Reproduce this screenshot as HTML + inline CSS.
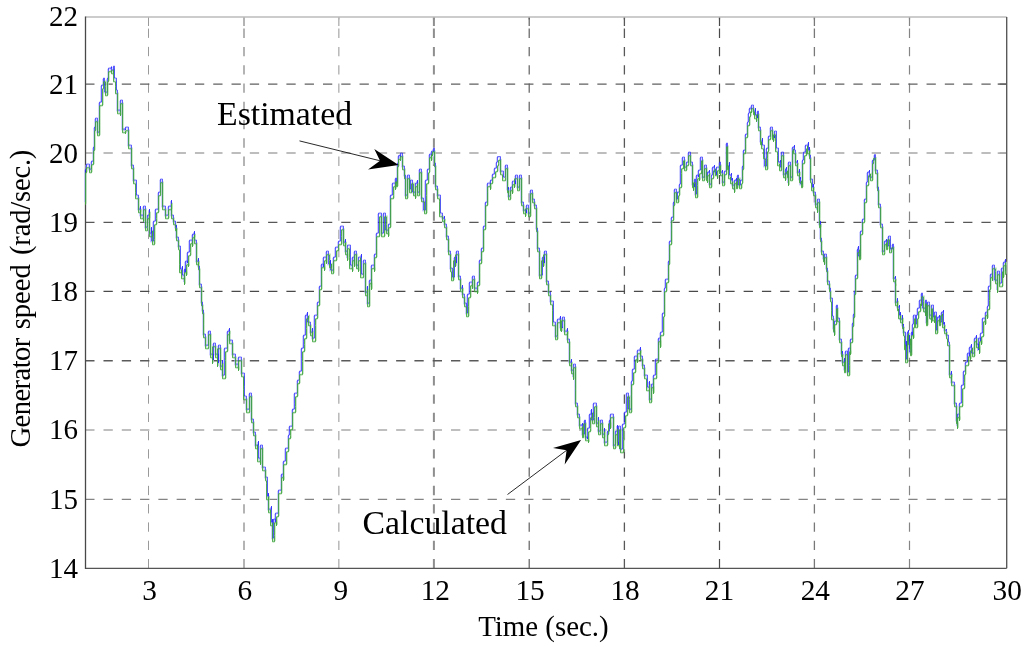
<!DOCTYPE html><html><head><meta charset="utf-8"><style>html,body{margin:0;padding:0;background:#fff;overflow:hidden;width:1024px;height:649px}svg{display:block}text{font-family:"Liberation Serif",serif;fill:#000}svg{will-change:transform}</style></head><body>
<svg width="1024" height="649" viewBox="0 0 1024 649">
<rect width="1024" height="649" fill="#fff"/>
<g stroke-dasharray="9.3 8.99"><line x1="148.5" y1="568.3" x2="148.5" y2="17.0" stroke="#9a9a9a" stroke-width="1.0"/><line x1="244.0" y1="568.3" x2="244.0" y2="17.0" stroke="#b4b4b4" stroke-width="2.0"/><line x1="338.8" y1="568.3" x2="338.8" y2="17.0" stroke="#b8b8b8" stroke-width="1.5"/><line x1="433.9" y1="568.3" x2="433.9" y2="17.0" stroke="#8e8e8e" stroke-width="2.0"/><line x1="529.2" y1="568.3" x2="529.2" y2="17.0" stroke="#606060" stroke-width="1.2"/><line x1="624.4" y1="568.3" x2="624.4" y2="17.0" stroke="#585858" stroke-width="1.3"/><line x1="719.5" y1="568.3" x2="719.5" y2="17.0" stroke="#4a4a4a" stroke-width="1.2"/><line x1="814.4" y1="568.3" x2="814.4" y2="17.0" stroke="#787878" stroke-width="1.3"/><line x1="909.5" y1="568.3" x2="909.5" y2="17.0" stroke="#858585" stroke-width="1.2"/><line x1="85.2" y1="84.1" x2="1006.7" y2="84.1" stroke="#606060" stroke-width="1.4"/><line x1="85.2" y1="153.1" x2="1006.7" y2="153.1" stroke="#a8a8a8" stroke-width="1.5"/><line x1="85.2" y1="222.3" x2="1006.7" y2="222.3" stroke="#585858" stroke-width="1.3"/><line x1="85.2" y1="291.4" x2="1006.7" y2="291.4" stroke="#4a4a4a" stroke-width="1.1"/><line x1="85.2" y1="360.8" x2="1006.7" y2="360.8" stroke="#5a5a5a" stroke-width="1.5"/><line x1="85.2" y1="429.9" x2="1006.7" y2="429.9" stroke="#aaaaaa" stroke-width="1.5"/><line x1="85.2" y1="499.4" x2="1006.7" y2="499.4" stroke="#848484" stroke-width="1.2"/></g>
<line x1="148.5" y1="17.0" x2="148.5" y2="26.0" stroke="#9a9a9a" stroke-width="1.0"/><line x1="244.0" y1="17.0" x2="244.0" y2="26.0" stroke="#b4b4b4" stroke-width="2.0"/><line x1="338.8" y1="17.0" x2="338.8" y2="26.0" stroke="#b8b8b8" stroke-width="1.5"/><line x1="433.9" y1="17.0" x2="433.9" y2="26.0" stroke="#8e8e8e" stroke-width="2.0"/><line x1="529.2" y1="17.0" x2="529.2" y2="26.0" stroke="#606060" stroke-width="1.2"/><line x1="624.4" y1="17.0" x2="624.4" y2="26.0" stroke="#585858" stroke-width="1.3"/><line x1="719.5" y1="17.0" x2="719.5" y2="26.0" stroke="#4a4a4a" stroke-width="1.2"/><line x1="814.4" y1="17.0" x2="814.4" y2="26.0" stroke="#787878" stroke-width="1.3"/><line x1="909.5" y1="17.0" x2="909.5" y2="26.0" stroke="#858585" stroke-width="1.2"/><line x1="997.7" y1="84.1" x2="1006.7" y2="84.1" stroke="#606060" stroke-width="1.4"/><line x1="997.7" y1="153.1" x2="1006.7" y2="153.1" stroke="#a8a8a8" stroke-width="1.5"/><line x1="997.7" y1="222.3" x2="1006.7" y2="222.3" stroke="#585858" stroke-width="1.3"/><line x1="997.7" y1="291.4" x2="1006.7" y2="291.4" stroke="#4a4a4a" stroke-width="1.1"/><line x1="997.7" y1="360.8" x2="1006.7" y2="360.8" stroke="#5a5a5a" stroke-width="1.5"/><line x1="997.7" y1="429.9" x2="1006.7" y2="429.9" stroke="#aaaaaa" stroke-width="1.5"/><line x1="997.7" y1="499.4" x2="1006.7" y2="499.4" stroke="#848484" stroke-width="1.2"/>
<path d="M85.5,17.0H1006.7" fill="none" stroke="#bbb" stroke-width="1.3"/>
<path d="M1006.7,17.0V568.3" fill="none" stroke="#555" stroke-width="1.35"/>
<path d="M85.5,568.3H1006.7" fill="none" stroke="#555" stroke-width="1.3"/>
<path d="M85.5,16.4V568.9" fill="none" stroke="#484848" stroke-width="1.3"/>
<path d="M84.5,202.1V170.1H85.5V170.1V165.1H88.5V165.1V170.1H90.5V167.1V162.1H92.5V148.1V148.1H93.5V128.1V128.1H94.5V119.1V119.1H96.5V125.1V133.1H98.5V103.1V103.1H100.5V86.1V86.1H102.5V79.1V79.1H103.5V84.1V93.1H106.5V79.1V79.1H107.5V74.1V69.1H110.5V67.6V71.1H112.5V71.1V67.1H113.5V79.1V79.1H115.5V84.1V91.1H116.5V111.1V111.1H119.5V113.1V101.1H121.5V118.1V130.1H124.5V131.1V128.1H127.5V140.1V146.1H130.5V160.1V166.1H132.5V169.1V181.1H135.5V190.1V196.1H137.5V201.1V210.1H139.5V207.1V216.1H142.5V219.1V207.1H144.5V210.1V228.1H146.5V225.1V216.1H148.5V210.1V234.1H150.5V228.1V242.1H152.5V237.1V222.1H154.5V216.1V210.1H157.5V204.1V193.1H159.5V193.1V180.1H161.5V193.1V207.1H164.5V210.1V216.1H167.5V213.1V207.1H170.5V201.1V216.1H172.5V216.1V222.1H174.5V225.1V228.1H175.5V226.1V238.1H177.5V241.1V247.1H179.5V262.1V270.1H181.5V267.1V276.1H183.5V282.1V270.1H184.5V273.1V262.1H186.5V264.1V253.1H188.5V250.1V241.1H191.5V244.1V235.1H193.5V232.1V241.1H195.5V253.1V262.1H197.5V259.1V267.1H198.5V279.1V285.1H200.5V291.1V303.1H201.5V303.1V311.1H202.5V323.1V335.1H204.5V335.1V346.1H207.5V344.1V332.1H209.5V338.1V355.1H212.5V361.1V344.1H214.5V344.1V355.1H217.5V364.1V346.1H219.5V352.1V367.1H221.5V361.1V376.1H223.5V358.1V349.1H226.5V344.1V332.1H228.5V329.1V341.1H231.5V344.1V355.1H234.5V355.1V365.1H237.5V368.1V358.1H240.5V368.1V374.1H243.5V387.1V397.1H245.5V397.1V410.1H248.5V410.1V394.1H250.5V410.1V420.1H252.5V426.1V433.1H254.5V436.1V446.1H257.5V442.1V459.1H259.5V462.1V446.1H261.5V452.1V468.1H264.5V468.1V478.1H266.5V481.1V497.1H267.5V494.1V510.1H270.5V507.1V523.1H271.5V520.1V539.1H272.5V533.1V520.1H274.5V523.1V514.1H277.5V510.1V491.1H280.5V481.1V475.1H282.5V478.1V462.1H284.5V462.1V449.1H287.5V449.1V436.1H288.5V433.1V427.1H291.5V420.1V410.1H293.5V404.1V394.1H296.5V391.1V381.1H298.5V378.1V372.1H300.5V359.1V349.1H302.5V342.1V336.1H304.5V326.1V316.1H306.5V313.1V323.1H309.5V323.1V333.1H311.5V329.1V339.1H313.5V323.1V316.1H316.5V313.1V303.1H318.5V297.1V287.1H320.5V274.1V265.1H322.5V268.1V258.1H325.5V261.1V252.1H327.5V258.1V265.1H329.5V261.1V271.1H332.5V265.1V258.1H334.5V258.1V248.1H337.5V248.1V242.1H339.5V234.1V227.1H342.5V234.1V243.1H344.5V240.1V252.1H346.5V258.1V246.1H349.5V255.1V266.1H351.5V269.1V258.1H353.5V264.1V252.1H355.5V252.1V266.1H357.5V269.1V258.1H360.5V255.1V275.1H362.5V275.1V261.1H364.5V284.1V293.1H366.5V287.1V304.1H368.5V290.1V281.1H370.5V287.1V266.1H373.5V269.1V255.1H375.5V246.1V234.1H377.5V234.1V214.1H380.5V222.1V234.1H382.5V222.1V214.1H384.5V222.1V231.1H387.5V234.1V225.1H389.5V202.1V196.1H391.5V193.1V184.1H394.5V187.1V179.1H395.5V179.1V184.1H396.5V173.1V164.1H397.5V161.1V156.6H399.5V158.1V154.1H401.5V158.1V167.1H403.5V167.1V176.1H404.5V187.1V196.1H406.5V187.1V176.1H408.5V176.1V190.1H409.5V190.1V181.1H411.5V181.1V193.1H414.5V196.1V184.1H416.5V181.1V193.1H418.5V184.1V170.1H420.5V187.1V199.1H422.5V199.1V211.1H424.5V193.1V181.1H426.5V181.1V170.1H428.5V167.1V155.1H430.5V158.1V152.1H432.5V153.1V149.1H433.5V152.1V164.1H434.5V176.1V187.1H436.5V190.1V196.1H439.5V199.1V214.1H441.5V214.1V219.1H443.5V217.1V225.1H445.5V228.1V237.1H447.5V243.1V252.1H449.5V255.1V269.1H451.5V269.1V278.1H453.5V266.1V258.1H455.5V264.1V252.1H457.5V264.1V277.1H459.5V277.1V289.1H461.5V286.1V295.1H463.5V295.1V304.1H465.5V304.1V314.1H466.5V304.1V295.1H468.5V295.1V283.1H471.5V286.1V277.1H473.5V280.1V289.1H476.5V291.1V283.1H478.5V271.1V261.1H480.5V255.1V249.1H482.5V233.1V227.1H484.5V209.1V203.1H486.5V190.1V184.1H489.5V187.1V181.1H491.5V181.1V175.1H493.5V175.1V169.1H495.5V169.1V163.1H496.5V161.1V157.6H499.5V166.1V172.1H502.5V172.1V178.1H504.5V175.1V166.1H506.5V184.1V190.1H507.5V188.1V197.1H509.5V194.1V188.1H511.5V191.1V182.1H514.5V185.1V176.1H516.5V179.1V188.1H518.5V182.1V176.1H520.5V194.1V203.1H522.5V203.1V211.1H525.5V214.1V206.1H527.5V209.1V214.1H529.5V197.1V191.1H531.5V191.1V200.1H533.5V200.1V206.1H535.5V223.1V229.1H536.5V241.1V249.1H538.5V255.1V276.1H541.5V273.1V258.1H543.5V264.1V252.1H545.5V267.1V282.1H547.5V282.1V293.1H549.5V293.1V302.1H552.5V308.1V323.1H554.5V323.1V337.1H556.5V334.1V320.1H559.5V317.1V328.1H561.5V329.1V318.1H563.5V321.1V332.1H566.5V329.1V340.1H568.5V349.1V363.1H570.5V360.1V371.1H572.5V377.1V365.1H574.5V388.1V404.1H576.5V404.1V415.1H578.5V415.1V426.1H581.5V424.1V435.1H583.5V432.1V421.1H584.5V421.1V438.1H586.5V440.1V429.1H588.5V426.1V415.1H590.5V410.1V421.1H592.5V415.1V404.1H595.5V410.1V424.1H597.5V418.1V432.1H599.5V429.1V421.1H601.5V424.1V435.1H603.5V429.1V443.1H606.5V440.1V432.1H608.5V432.1V421.1H609.5V426.1V415.1H612.5V426.1V446.1H614.5V443.1V432.1H616.5V426.1V443.1H617.5V446.1V427.1H619.5V431.1V450.1H621.5V437.1V425.1H623.5V422.1V413.1H625.5V407.1V394.1H627.5V397.1V410.1H630.5V394.1V382.1H631.5V382.1V370.1H633.5V370.1V357.1H636.5V360.1V351.1H639.5V348.1V357.1H641.5V357.1V366.1H643.5V366.1V376.1H646.5V376.1V388.1H648.5V382.1V400.1H650.5V400.1V385.1H652.5V391.1V376.1H654.5V373.1V360.1H657.5V351.1V339.1H659.5V345.1V333.1H661.5V330.1V314.1H663.5V302.1V289.1H664.5V289.1V280.1H667.5V272.1V262.1H668.5V252.1V242.1H670.5V228.1V218.1H672.5V213.1V203.1H673.5V198.1V190.1H675.5V190.1V200.1H676.5V200.1V193.1H678.5V190.1V185.1H679.5V171.1V166.1H681.5V166.1V158.1H683.5V161.1V168.1H685.5V168.1V163.1H687.5V161.1V153.1H689.5V156.1V163.1H691.5V178.1V185.1H693.5V188.1V180.1H694.5V183.1V195.1H695.5V183.1V176.1H697.5V178.1V171.1H699.5V168.1V158.1H701.5V166.1V178.1H703.5V176.1V166.1H705.5V171.1V178.1H706.5V180.1V173.1H708.5V171.1V185.1H710.5V185.1V176.1H711.5V176.1V168.1H713.5V166.1V173.1H715.5V176.1V168.1H718.5V171.1V163.1H719.5V166.1V173.1H721.5V171.1V183.1H723.5V179.1V172.1H725.5V153.1V144.1H726.5V160.1V167.1H728.5V163.1V176.1H730.5V174.1V181.1H731.5V179.1V186.1H733.5V190.1V181.1H735.5V179.1V186.1H736.5V183.1V176.1H737.5V179.1V186.1H739.5V186.1V181.1H741.5V174.1V167.1H742.5V158.1V151.1H744.5V142.1V135.1H746.5V130.1V123.1H747.5V119.1V114.1H748.5V114.1V109.1H750.5V110.1V106.1H752.5V107.1V112.1H754.5V109.1V116.1H756.5V119.1V112.1H757.5V119.1V128.1H759.5V135.1V142.1H761.5V139.1V146.1H763.5V149.1V156.1H763.5V158.1V167.1H765.5V156.1V149.1H767.5V144.1V137.1H769.5V135.1V128.1H771.5V130.1V137.1H773.5V139.1V132.1H775.5V139.1V149.1H777.5V153.1V163.1H779.5V161.1V168.1H780.5V161.1V153.1H782.5V168.1V175.1H784.5V178.1V170.1H785.5V168.1V175.1H787.5V183.1V163.1H789.5V166.1V178.1H791.5V158.1V148.1H793.5V146.1V151.1H794.5V153.1V163.1H796.5V161.1V173.1H798.5V170.1V180.1H799.5V178.1V185.1H801.5V168.1V161.1H802.5V161.1V153.1H804.5V153.1V146.1H807.5V143.1V151.1H808.5V148.1V156.1H809.5V163.1V180.1H811.5V180.1V188.1H812.5V185.1V193.1H814.5V198.1V205.1H816.5V210.1V200.1H818.5V217.1V225.1H819.5V222.1V239.1H820.5V244.1V252.1H822.5V254.1V259.1H823.5V262.1V255.1H825.5V259.1V269.1H826.5V273.1V282.1H828.5V282.1V289.1H829.5V292.1V299.1H831.5V308.1V317.1H832.5V317.1V329.1H833.5V333.1V322.1H835.5V317.1V306.1H836.5V308.1V319.1H838.5V331.1V340.1H840.5V345.1V354.1H841.5V352.1V363.1H843.5V359.1V370.1H844.5V363.1V352.1H846.5V361.1V373.1H847.5V363.1V349.1H849.5V352.1V340.1H851.5V331.1V324.1H852.5V324.1V315.1H853.5V299.1V292.1H854.5V289.1V276.1H856.5V262.1V250.1H857.5V247.1V257.1H859.5V242.1V232.1H861.5V227.1V220.1H863.5V208.1V200.1H865.5V188.1V183.1H866.5V181.1V173.1H868.5V171.1V178.1H871.5V168.1V161.1H873.5V159.1V155.6H874.5V163.1V171.1H876.5V183.1V188.1H877.5V200.1V205.1H879.5V220.1V225.1H881.5V245.1V252.1H883.5V250.1V242.1H885.5V240.1V247.1H887.5V245.1V237.1H889.5V242.1V250.1H891.5V247.1V245.1H892.5V272.1V279.1H894.5V277.1V284.1H894.5V282.1V303.1H896.5V299.1V308.1H898.5V306.1V316.1H899.5V313.1V320.1H901.5V316.1V326.1H902.5V325.1V333.1H904.5V336.1V347.1H905.5V342.1V360.1H906.5V343.1V333.1H907.5V331.1V342.1H908.5V336.1V353.1H910.5V347.1V333.1H911.5V336.1V325.1H912.5V325.1V316.1H914.5V316.1V325.1H915.5V325.1V316.1H916.5V316.1V309.1H918.5V309.1V301.1H920.5V303.1V294.1H921.5V299.1V309.1H924.5V313.1V301.1H925.5V309.1V323.1H926.5V314.1V303.1H928.5V304.1V316.1H930.5V320.1V306.1H932.5V306.1V318.1H933.5V320.1V313.1H935.5V316.1V331.1H936.5V325.1V318.1H938.5V316.1V323.1H940.5V321.1V313.1H942.5V311.1V325.1H943.5V323.1V331.1H945.5V330.1V336.1H947.5V336.1V343.1H948.5V345.1V375.1H950.5V372.1V383.1H953.5V389.1V404.1H955.5V410.1V421.1H956.5V426.1V415.1H958.5V418.1V404.1H960.5V401.1V386.1H962.5V380.1V372.1H964.5V372.1V363.1H966.5V363.1V354.1H968.5V357.1V348.1H970.5V345.1V354.1H973.5V348.1V339.1H975.5V336.1V345.1H977.5V351.1V339.1H979.5V342.1V334.1H981.5V331.1V319.1H984.5V322.1V313.1H986.5V316.1V307.1H987.5V298.1V287.1H989.5V287.1V275.1H991.5V278.1V266.1H993.5V269.1V281.1H996.5V290.1V272.1H998.5V272.1V284.1H1000.5V281.1V269.1H1002.5V275.1V263.1H1004.5V260.1V272.1" fill="none" stroke="#b4b4ff" stroke-width="1" stroke-opacity="0.6"/>
<path d="M86.5,203.8V171.8H87.5V171.8V166.8H90.5V166.8V171.8H92.5V168.8V163.8H94.5V149.8V149.8H95.5V129.8V129.8H96.5V120.8V120.8H98.5V126.8V134.8H100.5V104.8V104.8H103.5V87.8V87.8H104.5V80.8V80.8H106.5V85.8V94.8H108.5V80.8V80.8H109.5V75.8V70.8H112.5V69.3V72.8H114.5V72.8V68.8H114.5V80.8V80.8H116.5V85.8V92.8H118.5V112.8V112.8H121.5V114.8V102.8H123.5V119.8V131.8H126.5V132.8V129.8H129.5V141.8V147.8H132.5V161.8V167.8H134.5V170.8V182.8H136.5V191.8V197.8H139.5V202.8V211.8H141.5V208.8V217.8H144.5V220.8V208.8H146.5V211.8V229.8H148.5V226.8V217.8H150.5V211.8V235.8H153.5V229.8V243.8H155.5V238.8V223.8H157.5V217.8V211.8H159.5V205.8V194.8H161.5V194.8V181.8H163.5V194.8V208.8H166.5V211.8V217.8H169.5V214.8V208.8H172.5V202.8V217.8H174.5V217.8V223.8H176.5V226.8V229.8H177.5V227.8V239.8H179.5V242.8V248.8H180.5V263.8V271.8H182.5V268.8V277.8H185.5V283.8V271.8H187.5V274.8V263.8H189.5V265.8V254.8H191.5V251.8V242.8H193.5V245.8V236.8H195.5V233.8V242.8H197.5V254.8V263.8H199.5V260.8V268.8H200.5V280.8V286.8H202.5V292.8V304.8H203.5V304.8V312.8H204.5V324.8V336.8H206.5V336.8V347.8H209.5V345.8V333.8H211.5V339.8V356.8H213.5V362.8V345.8H216.5V345.8V356.8H218.5V365.8V347.8H221.5V353.8V368.8H223.5V362.8V377.8H226.5V359.8V350.8H228.5V345.8V333.8H230.5V330.8V342.8H233.5V345.8V356.8H236.5V356.8V366.8H239.5V369.8V359.8H242.5V369.8V375.8H244.5V388.8V398.8H247.5V398.8V411.8H250.5V411.8V395.8H252.5V411.8V421.8H254.5V427.8V434.8H256.5V437.8V447.8H258.5V443.8V460.8H261.5V463.8V447.8H263.5V453.8V469.8H266.5V469.8V479.8H267.5V482.8V498.8H269.5V495.8V511.8H271.5V508.8V524.8H273.5V521.8V540.8H275.5V534.8V521.8H277.5V524.8V515.8H279.5V511.8V492.8H282.5V482.8V476.8H284.5V479.8V463.8H287.5V463.8V450.8H289.5V450.8V437.8H291.5V434.8V428.8H293.5V421.8V411.8H296.5V405.8V395.8H298.5V392.8V382.8H300.5V379.8V373.8H303.5V360.8V350.8H305.5V343.8V337.8H307.5V327.8V317.8H309.5V314.8V324.8H311.5V324.8V334.8H313.5V330.8V340.8H316.5V324.8V317.8H318.5V314.8V304.8H320.5V298.8V288.8H322.5V275.8V266.8H325.5V269.8V259.8H327.5V262.8V253.8H330.5V259.8V266.8H332.5V262.8V272.8H334.5V266.8V259.8H337.5V259.8V249.8H339.5V249.8V243.8H342.5V235.8V228.8H344.5V235.8V244.8H346.5V241.8V253.8H348.5V259.8V247.8H350.5V256.8V267.8H353.5V270.8V259.8H355.5V265.8V253.8H357.5V253.8V267.8H359.5V270.8V259.8H361.5V256.8V276.8H364.5V276.8V262.8H366.5V285.8V294.8H368.5V288.8V305.8H370.5V291.8V282.8H372.5V288.8V267.8H375.5V270.8V256.8H377.5V247.8V235.8H380.5V235.8V215.8H382.5V223.8V235.8H385.5V223.8V215.8H387.5V223.8V232.8H389.5V235.8V226.8H391.5V203.8V197.8H394.5V194.8V185.8H396.5V188.8V180.8H397.5V180.8V185.8H398.5V174.8V165.8H399.5V162.8V158.3H401.5V159.8V155.8H403.5V159.8V168.8H405.5V168.8V177.8H406.5V188.8V197.8H408.5V188.8V177.8H410.5V177.8V191.8H412.5V191.8V182.8H414.5V182.8V194.8H416.5V197.8V185.8H418.5V182.8V194.8H420.5V185.8V171.8H422.5V188.8V200.8H425.5V200.8V212.8H427.5V194.8V182.8H429.5V182.8V171.8H430.5V168.8V156.8H432.5V159.8V153.8H433.5V154.8V150.8H435.5V153.8V165.8H436.5V177.8V188.8H438.5V191.8V197.8H440.5V200.8V215.8H443.5V215.8V220.8H445.5V218.8V226.8H447.5V229.8V238.8H449.5V244.8V253.8H451.5V256.8V270.8H452.5V270.8V279.8H454.5V267.8V259.8H456.5V265.8V253.8H459.5V265.8V278.8H461.5V278.8V290.8H463.5V287.8V296.8H465.5V296.8V305.8H467.5V305.8V315.8H469.5V305.8V296.8H471.5V296.8V284.8H473.5V287.8V278.8H475.5V281.8V290.8H478.5V292.8V284.8H480.5V272.8V262.8H482.5V256.8V250.8H484.5V234.8V228.8H486.5V210.8V204.8H488.5V191.8V185.8H491.5V188.8V182.8H493.5V182.8V176.8H496.5V176.8V170.8H498.5V170.8V164.8H499.5V162.8V159.3H501.5V167.8V173.8H503.5V173.8V179.8H506.5V176.8V167.8H508.5V185.8V191.8H509.5V189.8V198.8H511.5V195.8V189.8H513.5V192.8V183.8H515.5V186.8V177.8H518.5V180.8V189.8H520.5V183.8V177.8H522.5V195.8V204.8H524.5V204.8V212.8H526.5V215.8V207.8H529.5V210.8V215.8H531.5V198.8V192.8H533.5V192.8V201.8H535.5V201.8V207.8H537.5V224.8V230.8H538.5V242.8V250.8H540.5V256.8V277.8H542.5V274.8V259.8H544.5V265.8V253.8H547.5V268.8V283.8H549.5V283.8V294.8H551.5V294.8V303.8H553.5V309.8V324.8H556.5V324.8V338.8H558.5V335.8V321.8H561.5V318.8V329.8H562.5V330.8V319.8H565.5V322.8V333.8H568.5V330.8V341.8H570.5V350.8V364.8H572.5V361.8V372.8H574.5V378.8V366.8H576.5V389.8V405.8H578.5V405.8V416.8H580.5V416.8V427.8H583.5V425.8V436.8H584.5V433.8V422.8H586.5V422.8V439.8H589.5V441.8V430.8H591.5V427.8V416.8H593.5V411.8V422.8H595.5V416.8V405.8H597.5V411.8V425.8H599.5V419.8V433.8H601.5V430.8V422.8H603.5V425.8V436.8H605.5V430.8V444.8H608.5V441.8V433.8H609.5V433.8V422.8H611.5V427.8V416.8H614.5V427.8V447.8H616.5V444.8V433.8H618.5V427.8V444.8H620.5V447.8V428.8H621.5V432.8V451.8H624.5V438.8V426.8H626.5V423.8V414.8H628.5V408.8V395.8H630.5V398.8V411.8H632.5V395.8V383.8H634.5V383.8V371.8H636.5V371.8V358.8H638.5V361.8V352.8H641.5V349.8V358.8H643.5V358.8V367.8H645.5V367.8V377.8H647.5V377.8V389.8H650.5V383.8V401.8H652.5V401.8V386.8H654.5V392.8V377.8H657.5V374.8V361.8H659.5V352.8V340.8H661.5V346.8V334.8H664.5V331.8V315.8H665.5V303.8V290.8H667.5V290.8V281.8H669.5V273.8V263.8H670.5V253.8V243.8H672.5V229.8V219.8H674.5V214.8V204.8H675.5V199.8V191.8H677.5V191.8V201.8H679.5V201.8V194.8H680.5V191.8V186.8H682.5V172.8V167.8H684.5V167.8V159.8H685.5V162.8V169.8H687.5V169.8V164.8H689.5V162.8V154.8H691.5V157.8V164.8H693.5V179.8V186.8H694.5V189.8V181.8H696.5V184.8V196.8H698.5V184.8V177.8H700.5V179.8V172.8H702.5V169.8V159.8H703.5V167.8V179.8H705.5V177.8V167.8H707.5V172.8V179.8H708.5V181.8V174.8H710.5V172.8V186.8H712.5V186.8V177.8H714.5V177.8V169.8H716.5V167.8V174.8H718.5V177.8V169.8H720.5V172.8V164.8H721.5V167.8V174.8H723.5V172.8V184.8H725.5V180.8V173.8H727.5V154.8V145.8H728.5V161.8V168.8H729.5V164.8V177.8H731.5V175.8V182.8H733.5V180.8V187.8H735.5V191.8V182.8H737.5V180.8V187.8H738.5V184.8V177.8H740.5V180.8V187.8H742.5V187.8V182.8H743.5V175.8V168.8H744.5V159.8V152.8H746.5V143.8V136.8H748.5V131.8V124.8H750.5V120.8V115.8H751.5V115.8V110.8H752.5V111.8V107.8H754.5V108.8V113.8H755.5V110.8V117.8H757.5V120.8V113.8H759.5V120.8V129.8H761.5V136.8V143.8H762.5V140.8V147.8H764.5V150.8V157.8H766.5V159.8V168.8H768.5V157.8V150.8H769.5V145.8V138.8H771.5V136.8V129.8H773.5V131.8V138.8H774.5V140.8V133.8H776.5V140.8V150.8H778.5V154.8V164.8H780.5V162.8V169.8H782.5V162.8V154.8H784.5V169.8V176.8H786.5V179.8V171.8H788.5V169.8V176.8H789.5V184.8V164.8H791.5V167.8V179.8H793.5V159.8V149.8H794.5V147.8V152.8H796.5V154.8V164.8H798.5V162.8V174.8H800.5V171.8V181.8H802.5V179.8V186.8H803.5V169.8V162.8H805.5V162.8V154.8H807.5V154.8V147.8H808.5V144.8V152.8H810.5V149.8V157.8H811.5V164.8V181.8H812.5V181.8V189.8H814.5V186.8V194.8H816.5V199.8V206.8H818.5V211.8V201.8H820.5V218.8V226.8H821.5V223.8V240.8H822.5V245.8V253.8H824.5V255.8V260.8H825.5V263.8V256.8H827.5V260.8V270.8H828.5V274.8V283.8H830.5V283.8V290.8H831.5V293.8V300.8H832.5V309.8V318.8H834.5V318.8V330.8H835.5V334.8V323.8H837.5V318.8V307.8H838.5V309.8V320.8H840.5V332.8V341.8H842.5V346.8V355.8H843.5V353.8V364.8H845.5V360.8V371.8H846.5V364.8V353.8H848.5V362.8V374.8H850.5V364.8V350.8H851.5V353.8V341.8H853.5V332.8V325.8H854.5V325.8V316.8H855.5V300.8V293.8H856.5V290.8V277.8H858.5V263.8V251.8H860.5V248.8V258.8H861.5V243.8V233.8H863.5V228.8V221.8H865.5V209.8V201.8H867.5V189.8V184.8H869.5V182.8V174.8H871.5V172.8V179.8H873.5V169.8V162.8H874.5V160.8V157.3H876.5V164.8V172.8H878.5V184.8V189.8H879.5V201.8V206.8H881.5V221.8V226.8H883.5V246.8V253.8H885.5V251.8V243.8H887.5V241.8V248.8H888.5V246.8V238.8H890.5V243.8V251.8H892.5V248.8V246.8H894.5V273.8V280.8H896.5V278.8V285.8H896.5V283.8V304.8H898.5V300.8V309.8H899.5V307.8V317.8H901.5V314.8V321.8H903.5V317.8V327.8H904.5V326.8V334.8H905.5V337.8V348.8H906.5V343.8V361.8H908.5V344.8V334.8H909.5V332.8V343.8H911.5V337.8V354.8H912.5V348.8V334.8H914.5V337.8V326.8H915.5V326.8V317.8H916.5V317.8V326.8H918.5V326.8V317.8H919.5V317.8V310.8H921.5V310.8V302.8H922.5V304.8V295.8H924.5V300.8V310.8H926.5V314.8V302.8H927.5V310.8V324.8H928.5V315.8V304.8H930.5V305.8V317.8H932.5V321.8V307.8H933.5V307.8V319.8H935.5V321.8V314.8H936.5V317.8V332.8H938.5V326.8V319.8H940.5V317.8V324.8H941.5V322.8V314.8H943.5V312.8V326.8H945.5V324.8V332.8H947.5V331.8V337.8H948.5V337.8V344.8H950.5V346.8V376.8H952.5V373.8V384.8H955.5V390.8V405.8H957.5V411.8V422.8H958.5V427.8V416.8H960.5V419.8V405.8H963.5V402.8V387.8H965.5V381.8V373.8H966.5V373.8V364.8H969.5V364.8V355.8H971.5V358.8V349.8H973.5V346.8V355.8H975.5V349.8V340.8H977.5V337.8V346.8H980.5V352.8V340.8H982.5V343.8V335.8H984.5V332.8V320.8H986.5V323.8V314.8H988.5V317.8V308.8H990.5V299.8V288.8H991.5V288.8V276.8H993.5V279.8V267.8H996.5V270.8V282.8H998.5V291.8V273.8H1000.5V273.8V285.8H1003.5V282.8V270.8H1004.5V276.8V264.8H1006.5V261.8V273.8" fill="none" stroke="#a8d8a8" stroke-width="1" stroke-opacity="0.6"/>
<path d="M85.5,201.1V169.1H86.5V169.1V164.1H89.5V164.1V169.1H91.5V166.1V161.1H93.5V147.1V147.1H94.5V127.1V127.1H95.5V118.1V118.1H97.5V124.1V132.1H99.5V102.1V102.1H101.5V85.1V85.1H103.5V78.1V78.1H104.5V83.1V92.1H107.5V78.1V78.1H108.5V73.1V68.1H111.5V66.6V70.1H113.5V70.1V66.1H114.5V78.1V78.1H116.5V83.1V90.1H117.5V110.1V110.1H120.5V112.1V100.1H122.5V117.1V129.1H125.5V130.1V127.1H128.5V139.1V145.1H131.5V159.1V165.1H133.5V168.1V180.1H136.5V189.1V195.1H138.5V200.1V209.1H140.5V206.1V215.1H143.5V218.1V206.1H145.5V209.1V227.1H147.5V224.1V215.1H149.5V209.1V233.1H151.5V227.1V241.1H153.5V236.1V221.1H155.5V215.1V209.1H158.5V203.1V192.1H160.5V192.1V179.1H162.5V192.1V206.1H165.5V209.1V215.1H168.5V212.1V206.1H171.5V200.1V215.1H173.5V215.1V221.1H175.5V224.1V227.1H176.5V225.1V237.1H178.5V240.1V246.1H180.5V261.1V269.1H182.5V266.1V275.1H184.5V281.1V269.1H185.5V272.1V261.1H187.5V263.1V252.1H189.5V249.1V240.1H192.5V243.1V234.1H194.5V231.1V240.1H196.5V252.1V261.1H198.5V258.1V266.1H199.5V278.1V284.1H201.5V290.1V302.1H202.5V302.1V310.1H203.5V322.1V334.1H205.5V334.1V345.1H208.5V343.1V331.1H210.5V337.1V354.1H213.5V360.1V343.1H215.5V343.1V354.1H218.5V363.1V345.1H220.5V351.1V366.1H222.5V360.1V375.1H224.5V357.1V348.1H227.5V343.1V331.1H229.5V328.1V340.1H232.5V343.1V354.1H235.5V354.1V364.1H238.5V367.1V357.1H241.5V367.1V373.1H244.5V386.1V396.1H246.5V396.1V409.1H249.5V409.1V393.1H251.5V409.1V419.1H253.5V425.1V432.1H255.5V435.1V445.1H258.5V441.1V458.1H260.5V461.1V445.1H262.5V451.1V467.1H265.5V467.1V477.1H267.5V480.1V496.1H268.5V493.1V509.1H271.5V506.1V522.1H272.5V519.1V538.1H273.5V532.1V519.1H275.5V522.1V513.1H278.5V509.1V490.1H281.5V480.1V474.1H283.5V477.1V461.1H285.5V461.1V448.1H288.5V448.1V435.1H289.5V432.1V426.1H292.5V419.1V409.1H294.5V403.1V393.1H297.5V390.1V380.1H299.5V377.1V371.1H301.5V358.1V348.1H303.5V341.1V335.1H305.5V325.1V315.1H307.5V312.1V322.1H310.5V322.1V332.1H312.5V328.1V338.1H314.5V322.1V315.1H317.5V312.1V302.1H319.5V296.1V286.1H321.5V273.1V264.1H323.5V267.1V257.1H326.5V260.1V251.1H328.5V257.1V264.1H330.5V260.1V270.1H333.5V264.1V257.1H335.5V257.1V247.1H338.5V247.1V241.1H340.5V233.1V226.1H343.5V233.1V242.1H345.5V239.1V251.1H347.5V257.1V245.1H350.5V254.1V265.1H352.5V268.1V257.1H354.5V263.1V251.1H356.5V251.1V265.1H358.5V268.1V257.1H361.5V254.1V274.1H363.5V274.1V260.1H365.5V283.1V292.1H367.5V286.1V303.1H369.5V289.1V280.1H371.5V286.1V265.1H374.5V268.1V254.1H376.5V245.1V233.1H378.5V233.1V213.1H381.5V221.1V233.1H383.5V221.1V213.1H385.5V221.1V230.1H388.5V233.1V224.1H390.5V201.1V195.1H392.5V192.1V183.1H395.5V186.1V178.1H396.5V178.1V183.1H397.5V172.1V163.1H398.5V160.1V155.6H400.5V157.1V153.1H402.5V157.1V166.1H404.5V166.1V175.1H405.5V186.1V195.1H407.5V186.1V175.1H409.5V175.1V189.1H410.5V189.1V180.1H412.5V180.1V192.1H415.5V195.1V183.1H417.5V180.1V192.1H419.5V183.1V169.1H421.5V186.1V198.1H423.5V198.1V210.1H425.5V192.1V180.1H427.5V180.1V169.1H429.5V166.1V154.1H431.5V157.1V151.1H433.5V152.1V148.1H434.5V151.1V163.1H435.5V175.1V186.1H437.5V189.1V195.1H440.5V198.1V213.1H442.5V213.1V218.1H444.5V216.1V224.1H446.5V227.1V236.1H448.5V242.1V251.1H450.5V254.1V268.1H452.5V268.1V277.1H454.5V265.1V257.1H456.5V263.1V251.1H458.5V263.1V276.1H460.5V276.1V288.1H462.5V285.1V294.1H464.5V294.1V303.1H466.5V303.1V313.1H467.5V303.1V294.1H469.5V294.1V282.1H472.5V285.1V276.1H474.5V279.1V288.1H477.5V290.1V282.1H479.5V270.1V260.1H481.5V254.1V248.1H483.5V232.1V226.1H485.5V208.1V202.1H487.5V189.1V183.1H490.5V186.1V180.1H492.5V180.1V174.1H494.5V174.1V168.1H496.5V168.1V162.1H497.5V160.1V156.6H500.5V165.1V171.1H503.5V171.1V177.1H505.5V174.1V165.1H507.5V183.1V189.1H508.5V187.1V196.1H510.5V193.1V187.1H512.5V190.1V181.1H515.5V184.1V175.1H517.5V178.1V187.1H519.5V181.1V175.1H521.5V193.1V202.1H523.5V202.1V210.1H526.5V213.1V205.1H528.5V208.1V213.1H530.5V196.1V190.1H532.5V190.1V199.1H534.5V199.1V205.1H536.5V222.1V228.1H537.5V240.1V248.1H539.5V254.1V275.1H542.5V272.1V257.1H544.5V263.1V251.1H546.5V266.1V281.1H548.5V281.1V292.1H550.5V292.1V301.1H553.5V307.1V322.1H555.5V322.1V336.1H557.5V333.1V319.1H560.5V316.1V327.1H562.5V328.1V317.1H564.5V320.1V331.1H567.5V328.1V339.1H569.5V348.1V362.1H571.5V359.1V370.1H573.5V376.1V364.1H575.5V387.1V403.1H577.5V403.1V414.1H579.5V414.1V425.1H582.5V423.1V434.1H584.5V431.1V420.1H585.5V420.1V437.1H587.5V439.1V428.1H589.5V425.1V414.1H591.5V409.1V420.1H593.5V414.1V403.1H596.5V409.1V423.1H598.5V417.1V431.1H600.5V428.1V420.1H602.5V423.1V434.1H604.5V428.1V442.1H607.5V439.1V431.1H609.5V431.1V420.1H610.5V425.1V414.1H613.5V425.1V445.1H615.5V442.1V431.1H617.5V425.1V442.1H618.5V445.1V426.1H620.5V430.1V449.1H622.5V436.1V424.1H624.5V421.1V412.1H626.5V406.1V393.1H628.5V396.1V409.1H631.5V393.1V381.1H632.5V381.1V369.1H634.5V369.1V356.1H637.5V359.1V350.1H640.5V347.1V356.1H642.5V356.1V365.1H644.5V365.1V375.1H647.5V375.1V387.1H649.5V381.1V399.1H651.5V399.1V384.1H653.5V390.1V375.1H655.5V372.1V359.1H658.5V350.1V338.1H660.5V344.1V332.1H662.5V329.1V313.1H664.5V301.1V288.1H665.5V288.1V279.1H668.5V271.1V261.1H669.5V251.1V241.1H671.5V227.1V217.1H673.5V212.1V202.1H674.5V197.1V189.1H676.5V189.1V199.1H677.5V199.1V192.1H679.5V189.1V184.1H680.5V170.1V165.1H682.5V165.1V157.1H684.5V160.1V167.1H686.5V167.1V162.1H688.5V160.1V152.1H690.5V155.1V162.1H692.5V177.1V184.1H694.5V187.1V179.1H695.5V182.1V194.1H696.5V182.1V175.1H698.5V177.1V170.1H700.5V167.1V157.1H702.5V165.1V177.1H704.5V175.1V165.1H706.5V170.1V177.1H707.5V179.1V172.1H709.5V170.1V184.1H711.5V184.1V175.1H712.5V175.1V167.1H714.5V165.1V172.1H716.5V175.1V167.1H719.5V170.1V162.1H720.5V165.1V172.1H722.5V170.1V182.1H724.5V178.1V171.1H726.5V152.1V143.1H727.5V159.1V166.1H729.5V162.1V175.1H731.5V173.1V180.1H732.5V178.1V185.1H734.5V189.1V180.1H736.5V178.1V185.1H737.5V182.1V175.1H738.5V178.1V185.1H740.5V185.1V180.1H742.5V173.1V166.1H743.5V157.1V150.1H745.5V141.1V134.1H747.5V129.1V122.1H748.5V118.1V113.1H749.5V113.1V108.1H751.5V109.1V105.1H753.5V106.1V111.1H755.5V108.1V115.1H757.5V118.1V111.1H758.5V118.1V127.1H760.5V134.1V141.1H762.5V138.1V145.1H764.5V148.1V155.1H764.5V157.1V166.1H766.5V155.1V148.1H768.5V143.1V136.1H770.5V134.1V127.1H772.5V129.1V136.1H774.5V138.1V131.1H776.5V138.1V148.1H778.5V152.1V162.1H780.5V160.1V167.1H781.5V160.1V152.1H783.5V167.1V174.1H785.5V177.1V169.1H786.5V167.1V174.1H788.5V182.1V162.1H790.5V165.1V177.1H792.5V157.1V147.1H794.5V145.1V150.1H795.5V152.1V162.1H797.5V160.1V172.1H799.5V169.1V179.1H800.5V177.1V184.1H802.5V167.1V160.1H803.5V160.1V152.1H805.5V152.1V145.1H808.5V142.1V150.1H809.5V147.1V155.1H810.5V162.1V179.1H812.5V179.1V187.1H813.5V184.1V192.1H815.5V197.1V204.1H817.5V209.1V199.1H819.5V216.1V224.1H820.5V221.1V238.1H821.5V243.1V251.1H823.5V253.1V258.1H824.5V261.1V254.1H826.5V258.1V268.1H827.5V272.1V281.1H829.5V281.1V288.1H830.5V291.1V298.1H832.5V307.1V316.1H833.5V316.1V328.1H834.5V332.1V321.1H836.5V316.1V305.1H837.5V307.1V318.1H839.5V330.1V339.1H841.5V344.1V353.1H842.5V351.1V362.1H844.5V358.1V369.1H845.5V362.1V351.1H847.5V360.1V372.1H848.5V362.1V348.1H850.5V351.1V339.1H852.5V330.1V323.1H853.5V323.1V314.1H854.5V298.1V291.1H855.5V288.1V275.1H857.5V261.1V249.1H858.5V246.1V256.1H860.5V241.1V231.1H862.5V226.1V219.1H864.5V207.1V199.1H866.5V187.1V182.1H867.5V180.1V172.1H869.5V170.1V177.1H872.5V167.1V160.1H874.5V158.1V154.6H875.5V162.1V170.1H877.5V182.1V187.1H878.5V199.1V204.1H880.5V219.1V224.1H882.5V244.1V251.1H884.5V249.1V241.1H886.5V239.1V246.1H888.5V244.1V236.1H890.5V241.1V249.1H892.5V246.1V244.1H893.5V271.1V278.1H895.5V276.1V283.1H895.5V281.1V302.1H897.5V298.1V307.1H899.5V305.1V315.1H900.5V312.1V319.1H902.5V315.1V325.1H903.5V324.1V332.1H905.5V335.1V346.1H906.5V341.1V359.1H907.5V342.1V332.1H908.5V330.1V341.1H909.5V335.1V352.1H911.5V346.1V332.1H912.5V335.1V324.1H913.5V324.1V315.1H915.5V315.1V324.1H916.5V324.1V315.1H917.5V315.1V308.1H919.5V308.1V300.1H921.5V302.1V293.1H922.5V298.1V308.1H925.5V312.1V300.1H926.5V308.1V322.1H927.5V313.1V302.1H929.5V303.1V315.1H931.5V319.1V305.1H933.5V305.1V317.1H934.5V319.1V312.1H936.5V315.1V330.1H937.5V324.1V317.1H939.5V315.1V322.1H941.5V320.1V312.1H943.5V310.1V324.1H944.5V322.1V330.1H946.5V329.1V335.1H948.5V335.1V342.1H949.5V344.1V374.1H951.5V371.1V382.1H954.5V388.1V403.1H956.5V409.1V420.1H957.5V425.1V414.1H959.5V417.1V403.1H961.5V400.1V385.1H963.5V379.1V371.1H965.5V371.1V362.1H967.5V362.1V353.1H969.5V356.1V347.1H971.5V344.1V353.1H974.5V347.1V338.1H976.5V335.1V344.1H978.5V350.1V338.1H980.5V341.1V333.1H982.5V330.1V318.1H985.5V321.1V312.1H987.5V315.1V306.1H988.5V297.1V286.1H990.5V286.1V274.1H992.5V277.1V265.1H994.5V268.1V280.1H997.5V289.1V271.1H999.5V271.1V283.1H1001.5V280.1V268.1H1003.5V274.1V262.1H1005.5V259.1V271.1" fill="none" stroke="#2222ff" stroke-width="0.85" stroke-opacity="0.85"/>
<path d="M85.5,204.8V172.8H86.5V172.8V167.8H89.5V167.8V172.8H91.5V169.8V164.8H93.5V150.8V150.8H94.5V130.8V130.8H95.5V121.8V121.8H97.5V127.8V135.8H99.5V105.8V105.8H102.5V88.8V88.8H103.5V81.8V81.8H105.5V86.8V95.8H107.5V81.8V81.8H108.5V76.8V71.8H111.5V70.3V73.8H113.5V73.8V69.8H113.5V81.8V81.8H115.5V86.8V93.8H117.5V113.8V113.8H120.5V115.8V103.8H122.5V120.8V132.8H125.5V133.8V130.8H128.5V142.8V148.8H131.5V162.8V168.8H133.5V171.8V183.8H135.5V192.8V198.8H138.5V203.8V212.8H140.5V209.8V218.8H143.5V221.8V209.8H145.5V212.8V230.8H147.5V227.8V218.8H149.5V212.8V236.8H152.5V230.8V244.8H154.5V239.8V224.8H156.5V218.8V212.8H158.5V206.8V195.8H160.5V195.8V182.8H162.5V195.8V209.8H165.5V212.8V218.8H168.5V215.8V209.8H171.5V203.8V218.8H173.5V218.8V224.8H175.5V227.8V230.8H176.5V228.8V240.8H178.5V243.8V249.8H179.5V264.8V272.8H181.5V269.8V278.8H184.5V284.8V272.8H186.5V275.8V264.8H188.5V266.8V255.8H190.5V252.8V243.8H192.5V246.8V237.8H194.5V234.8V243.8H196.5V255.8V264.8H198.5V261.8V269.8H199.5V281.8V287.8H201.5V293.8V305.8H202.5V305.8V313.8H203.5V325.8V337.8H205.5V337.8V348.8H208.5V346.8V334.8H210.5V340.8V357.8H212.5V363.8V346.8H215.5V346.8V357.8H217.5V366.8V348.8H220.5V354.8V369.8H222.5V363.8V378.8H225.5V360.8V351.8H227.5V346.8V334.8H229.5V331.8V343.8H232.5V346.8V357.8H235.5V357.8V367.8H238.5V370.8V360.8H241.5V370.8V376.8H243.5V389.8V399.8H246.5V399.8V412.8H249.5V412.8V396.8H251.5V412.8V422.8H253.5V428.8V435.8H255.5V438.8V448.8H257.5V444.8V461.8H260.5V464.8V448.8H262.5V454.8V470.8H265.5V470.8V480.8H266.5V483.8V499.8H268.5V496.8V512.8H270.5V509.8V525.8H272.5V522.8V541.8H274.5V535.8V522.8H276.5V525.8V516.8H278.5V512.8V493.8H281.5V483.8V477.8H283.5V480.8V464.8H286.5V464.8V451.8H288.5V451.8V438.8H290.5V435.8V429.8H292.5V422.8V412.8H295.5V406.8V396.8H297.5V393.8V383.8H299.5V380.8V374.8H302.5V361.8V351.8H304.5V344.8V338.8H306.5V328.8V318.8H308.5V315.8V325.8H310.5V325.8V335.8H312.5V331.8V341.8H315.5V325.8V318.8H317.5V315.8V305.8H319.5V299.8V289.8H321.5V276.8V267.8H324.5V270.8V260.8H326.5V263.8V254.8H329.5V260.8V267.8H331.5V263.8V273.8H333.5V267.8V260.8H336.5V260.8V250.8H338.5V250.8V244.8H341.5V236.8V229.8H343.5V236.8V245.8H345.5V242.8V254.8H347.5V260.8V248.8H349.5V257.8V268.8H352.5V271.8V260.8H354.5V266.8V254.8H356.5V254.8V268.8H358.5V271.8V260.8H360.5V257.8V277.8H363.5V277.8V263.8H365.5V286.8V295.8H367.5V289.8V306.8H369.5V292.8V283.8H371.5V289.8V268.8H374.5V271.8V257.8H376.5V248.8V236.8H379.5V236.8V216.8H381.5V224.8V236.8H384.5V224.8V216.8H386.5V224.8V233.8H388.5V236.8V227.8H390.5V204.8V198.8H393.5V195.8V186.8H395.5V189.8V181.8H396.5V181.8V186.8H397.5V175.8V166.8H398.5V163.8V159.3H400.5V160.8V156.8H402.5V160.8V169.8H404.5V169.8V178.8H405.5V189.8V198.8H407.5V189.8V178.8H409.5V178.8V192.8H411.5V192.8V183.8H413.5V183.8V195.8H415.5V198.8V186.8H417.5V183.8V195.8H419.5V186.8V172.8H421.5V189.8V201.8H424.5V201.8V213.8H426.5V195.8V183.8H428.5V183.8V172.8H429.5V169.8V157.8H431.5V160.8V154.8H432.5V155.8V151.8H434.5V154.8V166.8H435.5V178.8V189.8H437.5V192.8V198.8H439.5V201.8V216.8H442.5V216.8V221.8H444.5V219.8V227.8H446.5V230.8V239.8H448.5V245.8V254.8H450.5V257.8V271.8H451.5V271.8V280.8H453.5V268.8V260.8H455.5V266.8V254.8H458.5V266.8V279.8H460.5V279.8V291.8H462.5V288.8V297.8H464.5V297.8V306.8H466.5V306.8V316.8H468.5V306.8V297.8H470.5V297.8V285.8H472.5V288.8V279.8H474.5V282.8V291.8H477.5V293.8V285.8H479.5V273.8V263.8H481.5V257.8V251.8H483.5V235.8V229.8H485.5V211.8V205.8H487.5V192.8V186.8H490.5V189.8V183.8H492.5V183.8V177.8H495.5V177.8V171.8H497.5V171.8V165.8H498.5V163.8V160.3H500.5V168.8V174.8H502.5V174.8V180.8H505.5V177.8V168.8H507.5V186.8V192.8H508.5V190.8V199.8H510.5V196.8V190.8H512.5V193.8V184.8H514.5V187.8V178.8H517.5V181.8V190.8H519.5V184.8V178.8H521.5V196.8V205.8H523.5V205.8V213.8H525.5V216.8V208.8H528.5V211.8V216.8H530.5V199.8V193.8H532.5V193.8V202.8H534.5V202.8V208.8H536.5V225.8V231.8H537.5V243.8V251.8H539.5V257.8V278.8H541.5V275.8V260.8H543.5V266.8V254.8H546.5V269.8V284.8H548.5V284.8V295.8H550.5V295.8V304.8H552.5V310.8V325.8H555.5V325.8V339.8H557.5V336.8V322.8H560.5V319.8V330.8H561.5V331.8V320.8H564.5V323.8V334.8H567.5V331.8V342.8H569.5V351.8V365.8H571.5V362.8V373.8H573.5V379.8V367.8H575.5V390.8V406.8H577.5V406.8V417.8H579.5V417.8V428.8H582.5V426.8V437.8H583.5V434.8V423.8H585.5V423.8V440.8H588.5V442.8V431.8H590.5V428.8V417.8H592.5V412.8V423.8H594.5V417.8V406.8H596.5V412.8V426.8H598.5V420.8V434.8H600.5V431.8V423.8H602.5V426.8V437.8H604.5V431.8V445.8H607.5V442.8V434.8H608.5V434.8V423.8H610.5V428.8V417.8H613.5V428.8V448.8H615.5V445.8V434.8H617.5V428.8V445.8H619.5V448.8V429.8H620.5V433.8V452.8H623.5V439.8V427.8H625.5V424.8V415.8H627.5V409.8V396.8H629.5V399.8V412.8H631.5V396.8V384.8H633.5V384.8V372.8H635.5V372.8V359.8H637.5V362.8V353.8H640.5V350.8V359.8H642.5V359.8V368.8H644.5V368.8V378.8H646.5V378.8V390.8H649.5V384.8V402.8H651.5V402.8V387.8H653.5V393.8V378.8H656.5V375.8V362.8H658.5V353.8V341.8H660.5V347.8V335.8H663.5V332.8V316.8H664.5V304.8V291.8H666.5V291.8V282.8H668.5V274.8V264.8H669.5V254.8V244.8H671.5V230.8V220.8H673.5V215.8V205.8H674.5V200.8V192.8H676.5V192.8V202.8H678.5V202.8V195.8H679.5V192.8V187.8H681.5V173.8V168.8H683.5V168.8V160.8H684.5V163.8V170.8H686.5V170.8V165.8H688.5V163.8V155.8H690.5V158.8V165.8H692.5V180.8V187.8H693.5V190.8V182.8H695.5V185.8V197.8H697.5V185.8V178.8H699.5V180.8V173.8H701.5V170.8V160.8H702.5V168.8V180.8H704.5V178.8V168.8H706.5V173.8V180.8H707.5V182.8V175.8H709.5V173.8V187.8H711.5V187.8V178.8H713.5V178.8V170.8H715.5V168.8V175.8H717.5V178.8V170.8H719.5V173.8V165.8H720.5V168.8V175.8H722.5V173.8V185.8H724.5V181.8V174.8H726.5V155.8V146.8H727.5V162.8V169.8H728.5V165.8V178.8H730.5V176.8V183.8H732.5V181.8V188.8H734.5V192.8V183.8H736.5V181.8V188.8H737.5V185.8V178.8H739.5V181.8V188.8H741.5V188.8V183.8H742.5V176.8V169.8H743.5V160.8V153.8H745.5V144.8V137.8H747.5V132.8V125.8H749.5V121.8V116.8H750.5V116.8V111.8H751.5V112.8V108.8H753.5V109.8V114.8H754.5V111.8V118.8H756.5V121.8V114.8H758.5V121.8V130.8H760.5V137.8V144.8H761.5V141.8V148.8H763.5V151.8V158.8H765.5V160.8V169.8H767.5V158.8V151.8H768.5V146.8V139.8H770.5V137.8V130.8H772.5V132.8V139.8H773.5V141.8V134.8H775.5V141.8V151.8H777.5V155.8V165.8H779.5V163.8V170.8H781.5V163.8V155.8H783.5V170.8V177.8H785.5V180.8V172.8H787.5V170.8V177.8H788.5V185.8V165.8H790.5V168.8V180.8H792.5V160.8V150.8H793.5V148.8V153.8H795.5V155.8V165.8H797.5V163.8V175.8H799.5V172.8V182.8H801.5V180.8V187.8H802.5V170.8V163.8H804.5V163.8V155.8H806.5V155.8V148.8H807.5V145.8V153.8H809.5V150.8V158.8H810.5V165.8V182.8H811.5V182.8V190.8H813.5V187.8V195.8H815.5V200.8V207.8H817.5V212.8V202.8H819.5V219.8V227.8H820.5V224.8V241.8H821.5V246.8V254.8H823.5V256.8V261.8H824.5V264.8V257.8H826.5V261.8V271.8H827.5V275.8V284.8H829.5V284.8V291.8H830.5V294.8V301.8H831.5V310.8V319.8H833.5V319.8V331.8H834.5V335.8V324.8H836.5V319.8V308.8H837.5V310.8V321.8H839.5V333.8V342.8H841.5V347.8V356.8H842.5V354.8V365.8H844.5V361.8V372.8H845.5V365.8V354.8H847.5V363.8V375.8H849.5V365.8V351.8H850.5V354.8V342.8H852.5V333.8V326.8H853.5V326.8V317.8H854.5V301.8V294.8H855.5V291.8V278.8H857.5V264.8V252.8H859.5V249.8V259.8H860.5V244.8V234.8H862.5V229.8V222.8H864.5V210.8V202.8H866.5V190.8V185.8H868.5V183.8V175.8H870.5V173.8V180.8H872.5V170.8V163.8H873.5V161.8V158.3H875.5V165.8V173.8H877.5V185.8V190.8H878.5V202.8V207.8H880.5V222.8V227.8H882.5V247.8V254.8H884.5V252.8V244.8H886.5V242.8V249.8H887.5V247.8V239.8H889.5V244.8V252.8H891.5V249.8V247.8H893.5V274.8V281.8H895.5V279.8V286.8H895.5V284.8V305.8H897.5V301.8V310.8H898.5V308.8V318.8H900.5V315.8V322.8H902.5V318.8V328.8H903.5V327.8V335.8H904.5V338.8V349.8H905.5V344.8V362.8H907.5V345.8V335.8H908.5V333.8V344.8H910.5V338.8V355.8H911.5V349.8V335.8H913.5V338.8V327.8H914.5V327.8V318.8H915.5V318.8V327.8H917.5V327.8V318.8H918.5V318.8V311.8H920.5V311.8V303.8H921.5V305.8V296.8H923.5V301.8V311.8H925.5V315.8V303.8H926.5V311.8V325.8H927.5V316.8V305.8H929.5V306.8V318.8H931.5V322.8V308.8H932.5V308.8V320.8H934.5V322.8V315.8H935.5V318.8V333.8H937.5V327.8V320.8H939.5V318.8V325.8H940.5V323.8V315.8H942.5V313.8V327.8H944.5V325.8V333.8H946.5V332.8V338.8H947.5V338.8V345.8H949.5V347.8V377.8H951.5V374.8V385.8H954.5V391.8V406.8H956.5V412.8V423.8H957.5V428.8V417.8H959.5V420.8V406.8H962.5V403.8V388.8H964.5V382.8V374.8H965.5V374.8V365.8H968.5V365.8V356.8H970.5V359.8V350.8H972.5V347.8V356.8H974.5V350.8V341.8H976.5V338.8V347.8H979.5V353.8V341.8H981.5V344.8V336.8H983.5V333.8V321.8H985.5V324.8V315.8H987.5V318.8V309.8H989.5V300.8V289.8H990.5V289.8V277.8H992.5V280.8V268.8H995.5V271.8V283.8H997.5V292.8V274.8H999.5V274.8V286.8H1002.5V283.8V271.8H1003.5V277.8V265.8H1005.5V262.8V274.8" fill="none" stroke="#3fa53f" stroke-width="0.9"/>
<text x="77.9" y="577.7" font-size="29" text-anchor="end">14</text>
<text x="77.9" y="508.6" font-size="29" text-anchor="end">15</text>
<text x="77.9" y="439.4" font-size="29" text-anchor="end">16</text>
<text x="77.9" y="370.2" font-size="29" text-anchor="end">17</text>
<text x="77.9" y="301.0" font-size="29" text-anchor="end">18</text>
<text x="77.9" y="231.9" font-size="29" text-anchor="end">19</text>
<text x="77.9" y="162.7" font-size="29" text-anchor="end">20</text>
<text x="77.9" y="93.5" font-size="29" text-anchor="end">21</text>
<text x="77.9" y="25.9" font-size="29" text-anchor="end">22</text>
<text x="149.6" y="600.4" font-size="29.3" text-anchor="middle">3</text>
<text x="244.8" y="600.4" font-size="29.3" text-anchor="middle">6</text>
<text x="340.9" y="600.4" font-size="29.3" text-anchor="middle">9</text>
<text x="435.3" y="600.4" font-size="29.3" text-anchor="middle">12</text>
<text x="530.1" y="600.4" font-size="29.3" text-anchor="middle">15</text>
<text x="625.1" y="600.4" font-size="29.3" text-anchor="middle">18</text>
<text x="719.4" y="600.4" font-size="29.3" text-anchor="middle">21</text>
<text x="815.3" y="600.4" font-size="29.3" text-anchor="middle">24</text>
<text x="909.9" y="600.4" font-size="29.3" text-anchor="middle">27</text>
<text x="1007.2" y="600.4" font-size="29.3" text-anchor="middle">30</text>
<text x="543.4" y="636" font-size="28.9" text-anchor="middle">Time (sec.)</text>
<text transform="translate(30.3,447.6) rotate(-90)" font-size="28.6" letter-spacing="-0.55">Generator</text>
<text transform="translate(30.3,329.3) rotate(-90)" font-size="28.6">speed</text>
<text transform="translate(30.3,255.0) rotate(-90)" font-size="28.6" letter-spacing="-0.2">(rad/sec.)</text>
<text x="217" y="125.3" font-size="33.8">Estimated</text>
<text x="362.5" y="534" font-size="33.8">Calculated</text>
<line x1="299.5" y1="140.9" x2="381" y2="161" stroke="#111" stroke-width="0.9"/>
<path d="M398.6,165.1L374.3,148.9L380,160.8L368.1,169.6Z" fill="#000"/>
<line x1="507.5" y1="494.5" x2="567" y2="450" stroke="#111" stroke-width="0.9"/>
<path d="M581.1,439.9L553,447.9L566.6,450.3L564.7,464.5Z" fill="#000"/>
</svg></body></html>
